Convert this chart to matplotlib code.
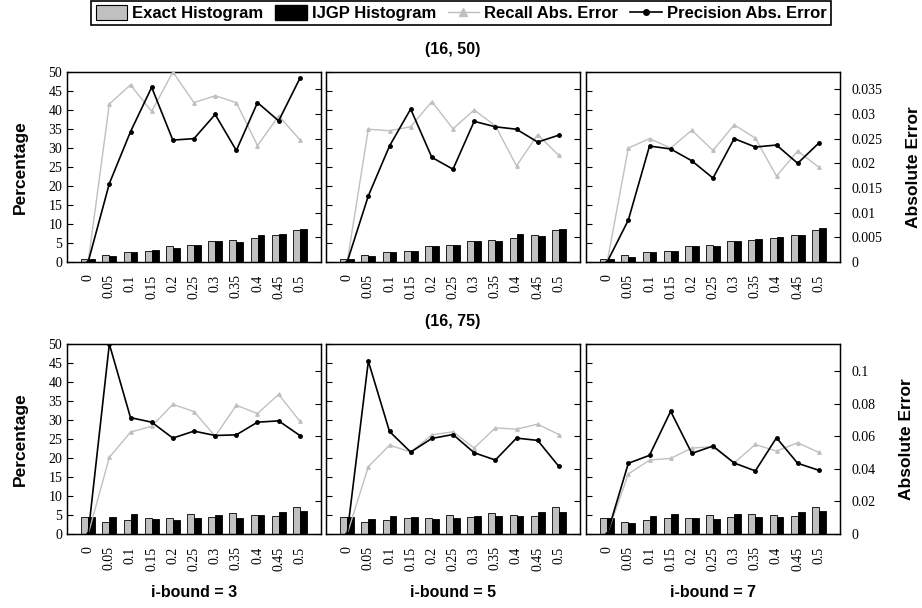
import matplotlib
matplotlib.use("Agg")
import matplotlib.pyplot as plt
from matplotlib.patches import Patch
from matplotlib.lines import Line2D
import numpy as np

# =========================
# Data
# =========================
thresholds = ["0", "0.05", "0.1", "0.15", "0.2", "0.25", "0.3", "0.35", "0.4", "0.45", "0.5"]
row_titles = ["(16, 50)", "(16, 75)"]
col_titles = ["i-bound = 3", "i-bound = 5", "i-bound = 7"]

# (16, 50)
exact_50_ib3 = [0.9, 1.9, 2.6, 2.9, 4.3, 4.6, 5.5, 5.8, 6.2, 7.1, 8.4]
ijgp_50_ib3 = [0.9, 1.5, 2.6, 3.1, 3.8, 4.6, 5.5, 5.2, 7.0, 7.4, 8.8]
prec_50_ib3 = [0.0, 0.0159, 0.0264, 0.0354, 0.0247, 0.0250, 0.0299, 0.0226, 0.0323, 0.0286, 0.0372]
recall_50_ib3 = [0.0, 0.0320, 0.0359, 0.0305, 0.0385, 0.0323, 0.0337, 0.0323, 0.0236, 0.0296, 0.0248]

exact_50_ib5 = [0.9, 1.9, 2.6, 2.9, 4.2, 4.55, 5.5, 5.8, 6.3, 7.2, 8.4]
ijgp_50_ib5 = [0.9, 1.5, 2.7, 2.8, 4.1, 4.4, 5.5, 5.5, 7.4, 6.9, 8.8]
prec_50_ib5 = [0.0, 0.0134, 0.0235, 0.0310, 0.0212, 0.0188, 0.0285, 0.0274, 0.0269, 0.0243, 0.0257]
recall_50_ib5 = [0.0, 0.0269, 0.0266, 0.0274, 0.0325, 0.0270, 0.0308, 0.0276, 0.0195, 0.0258, 0.0216]

exact_50_ib7 = [0.9, 1.9, 2.6, 2.9, 4.2, 4.55, 5.5, 5.8, 6.3, 7.2, 8.4]
ijgp_50_ib7 = [0.9, 1.4, 2.6, 3.0, 4.2, 4.2, 5.5, 6.0, 6.65, 7.0, 8.85]
prec_50_ib7 = [0.0, 0.0085, 0.0235, 0.0229, 0.0205, 0.0170, 0.0250, 0.0233, 0.0237, 0.0200, 0.0241]
recall_50_ib7 = [0.0, 0.0231, 0.0250, 0.0231, 0.0267, 0.0226, 0.0278, 0.0251, 0.0174, 0.0225, 0.0192]

# (16, 75)
exact_75_ib3 = [4.45, 3.1, 3.6, 4.3, 4.3, 5.3, 4.45, 5.4, 5.0, 4.8, 7.1]
ijgp_75_ib3 = [4.45, 4.5, 5.3, 3.9, 3.7, 4.1, 5.0, 4.3, 5.0, 5.85, 6.1]
prec_75_ib3 = [0.0, 0.1169, 0.0716, 0.0688, 0.0590, 0.0633, 0.0606, 0.0610, 0.0688, 0.0696, 0.0606]
recall_75_ib3 = [0.0, 0.0471, 0.0627, 0.0663, 0.0798, 0.0753, 0.0602, 0.0792, 0.0741, 0.0859, 0.0694]

exact_75_ib5 = [4.45, 3.1, 3.6, 4.3, 4.3, 5.0, 4.45, 5.4, 5.0, 4.7, 7.1]
ijgp_75_ib5 = [4.45, 3.9, 4.7, 4.5, 3.9, 4.3, 4.8, 4.7, 4.7, 5.85, 5.85]
prec_75_ib5 = [0.0, 0.1063, 0.0631, 0.0504, 0.0588, 0.0612, 0.0500, 0.0455, 0.0590, 0.0576, 0.0416]
recall_75_ib5 = [0.0, 0.0414, 0.0547, 0.0504, 0.0610, 0.0629, 0.0529, 0.0653, 0.0645, 0.0676, 0.0612]

exact_75_ib7 = [4.3, 3.05, 3.6, 4.2, 4.2, 5.0, 4.45, 5.3, 5.0, 4.7, 7.1]
ijgp_75_ib7 = [4.3, 2.8, 4.7, 5.15, 4.1, 3.9, 5.3, 4.45, 4.6, 5.7, 6.0]
prec_75_ib7 = [0.0, 0.0435, 0.0484, 0.0755, 0.0496, 0.0541, 0.0437, 0.0388, 0.0592, 0.0435, 0.0392]
recall_75_ib7 = [0.0, 0.0369, 0.0455, 0.0465, 0.0529, 0.0537, 0.0437, 0.0551, 0.0510, 0.0561, 0.0502]

panels = [
    [(exact_50_ib3, ijgp_50_ib3, recall_50_ib3, prec_50_ib3),
     (exact_50_ib5, ijgp_50_ib5, recall_50_ib5, prec_50_ib5),
     (exact_50_ib7, ijgp_50_ib7, recall_50_ib7, prec_50_ib7)],
    [(exact_75_ib3, ijgp_75_ib3, recall_75_ib3, prec_75_ib3),
     (exact_75_ib5, ijgp_75_ib5, recall_75_ib5, prec_75_ib5),
     (exact_75_ib7, ijgp_75_ib7, recall_75_ib7, prec_75_ib7)],
]

# right axis ranges per row
err_max = [0.0385, 0.1169]
err_ticks = [np.arange(0, 0.0351, 0.005), np.arange(0, 0.101, 0.02)]
err_labels = [["0", "0.005", "0.01", "0.015", "0.02", "0.025", "0.03", "0.035"],
              ["0", "0.02", "0.04", "0.06", "0.08", "0.1"]]

GREY = "#c0c0c0"
SERIF = "Liberation Serif"
SANS = "Liberation Sans"

# =========================
# Figure
# =========================
fig = plt.figure(figsize=(9.22, 6.08), dpi=100)

lefts = [67 / 922, 326 / 922, 586 / 922]
width = 254 / 922
bottoms = [1 - 262 / 608, 1 - 534 / 608]
height = 190 / 608

x = np.arange(len(thresholds))
bw = 0.33

for r in range(2):
    for c in range(3):
        exact, ijgp, recall, prec = panels[r][c]
        ax = fig.add_axes([lefts[c], bottoms[r], width, height])
        ax.bar(x - bw / 2, exact, bw, color=GREY, edgecolor="black", linewidth=0.6, zorder=2)
        ax.bar(x + bw / 2, ijgp, bw, color="black", edgecolor="black", linewidth=0.6, zorder=2)
        ax.set_xlim(-1, 11)
        ax.set_ylim(0, 50)
        ax.set_yticks(np.arange(0, 51, 5))
        ax.set_xticks(x)
        ax.set_xticklabels(thresholds, rotation=90, fontfamily=SERIF, fontsize=10)
        ax.tick_params(axis="x", length=0, pad=9)
        ax.tick_params(axis="y", direction="in", length=4, width=0.8)
        if c == 0:
            ax.set_yticklabels([str(v) for v in range(0, 51, 5)], fontfamily=SERIF, fontsize=10)
            ax.set_ylabel("Percentage", fontfamily=SANS, fontweight="bold", fontsize=12.5, labelpad=15)
        else:
            ax.set_yticklabels([])
        for s in ax.spines.values():
            s.set_linewidth(1.0)

        ax2 = ax.twinx()
        ax2.plot(x, recall, color=GREY, linewidth=1.0, marker="^", markersize=2.5, zorder=3)
        ax2.plot(x, prec, color="black", linewidth=1.2, marker="o", markersize=2.5, zorder=4)
        ax2.set_ylim(0, err_max[r])
        ax2.set_yticks(err_ticks[r])
        ax2.tick_params(axis="y", direction="in", length=4, width=0.8)
        if c == 2:
            ax2.set_yticklabels(err_labels[r], fontfamily=SERIF, fontsize=10)
            ax2.tick_params(axis="y", pad=8)
            ax2.set_ylabel("Absolute Error", fontfamily=SANS, fontweight="bold", fontsize=12.5, labelpad=17)
        else:
            ax2.set_yticklabels([])

        if c == 1:
            ax.set_title(row_titles[r], fontfamily=SANS, fontweight="bold", fontsize=11.5, pad=13)
        if r == 1:
            ax.set_xlabel(col_titles[c], fontfamily=SANS, fontweight="bold", fontsize=11.5, labelpad=10)

# =========================
# Legend
# =========================
handles = [
    Patch(facecolor=GREY, edgecolor="black", linewidth=0.8, label="Exact Histogram"),
    Patch(facecolor="black", edgecolor="black", label="IJGP Histogram"),
    Line2D([], [], color=GREY, marker="^", markersize=6, linewidth=1.0, label="Recall Abs. Error"),
    Line2D([], [], color="black", marker="o", markersize=4, linewidth=1.2, label="Precision Abs. Error"),
]
leg = fig.legend(handles=handles, loc="upper center", bbox_to_anchor=(0.5, 1.0), ncol=4,
                 frameon=True, fancybox=False, edgecolor="black", framealpha=1,
                 prop={"family": SANS, "weight": "bold", "size": 12},
                 handlelength=1.9, handleheight=1.0, handletextpad=0.3, columnspacing=0.7,
                 borderpad=0.25, borderaxespad=0.05)
leg.get_frame().set_linewidth(1.2)

fig.savefig("out.png", dpi=100)
